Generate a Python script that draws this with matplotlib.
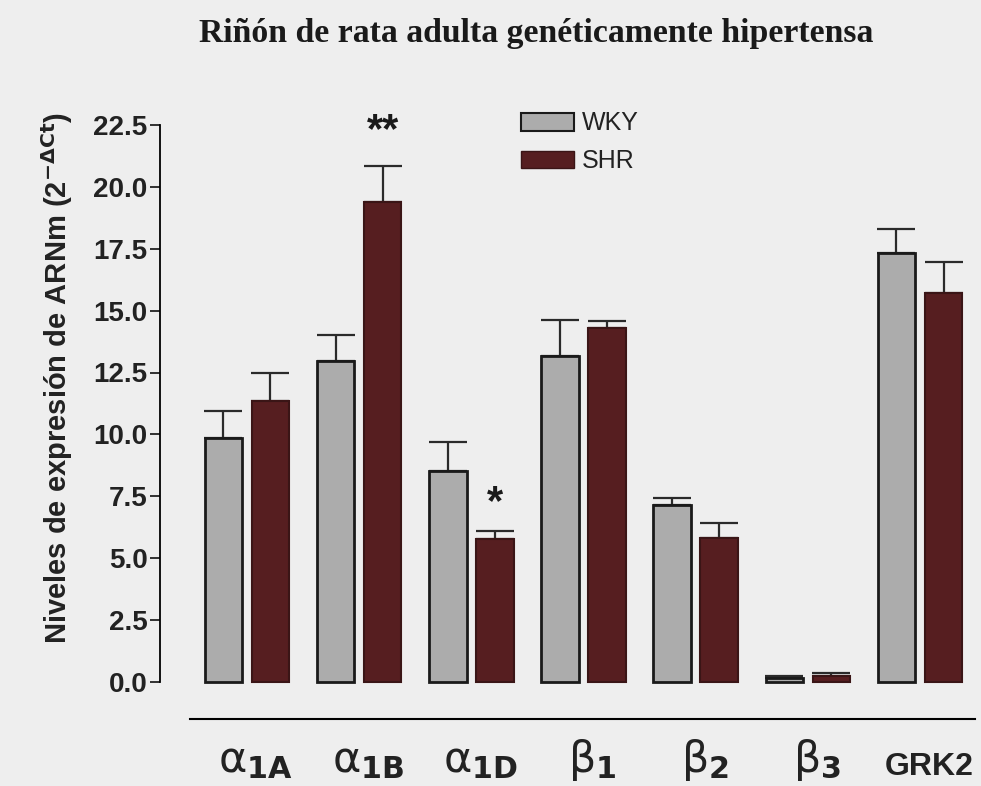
import matplotlib
matplotlib.use("Agg")
import matplotlib.pyplot as plt
import matplotlib.transforms as mtransforms
import numpy as np
from matplotlib.patches import Patch

categories = [r"$\mathrm{\alpha}_{\mathbf{1A}}$", r"$\mathrm{\alpha}_{\mathbf{1B}}$", r"$\mathrm{\alpha}_{\mathbf{1D}}$",
              r"$\mathrm{\beta}_{\mathbf{1}}$", r"$\mathrm{\beta}_{\mathbf{2}}$", r"$\mathrm{\beta}_{\mathbf{3}}$", "GRK2"]
wky = [9.84, 12.98, 8.52, 13.17, 7.15, 0.15, 17.31]
wky_err = [1.12, 1.05, 1.18, 1.45, 0.27, 0.10, 0.97]
shr = [11.35, 19.40, 5.79, 14.28, 5.80, 0.25, 15.72]
shr_err = [1.12, 1.44, 0.32, 0.30, 0.61, 0.10, 1.24]
signif = ["", "**", "*", "", "", "", ""]
yticks = [0.0, 2.5, 5.0, 7.5, 10.0, 12.5, 15.0, 17.5, 20.0, 22.5]

bg = "#eeeeee"
plt.rcParams["font.family"] = ["Liberation Sans", "DejaVu Sans"]
plt.rcParams["mathtext.fontset"] = "dejavusans"

fig = plt.figure(figsize=(9.81, 7.86), dpi=100, facecolor=bg)
ax = fig.add_axes([160/981, 1-719/786, (975-160)/981, (719-125)/786])
ax.set_facecolor(bg)

x = np.arange(len(categories))
off = 0.21
w = 0.335
ax.bar(x - off, wky, w, color="#acacac", edgecolor="#1a1a1a", linewidth=2.0, zorder=2)
ax.bar(x + off, shr, w, color="#561e20", edgecolor="#3a1516", linewidth=1.5, zorder=2)
ax.errorbar(x - off, wky, yerr=[np.zeros(len(wky)), wky_err], fmt="none",
            ecolor="#2a2a2a", elinewidth=1.6, capsize=14, capthick=1.6, zorder=1)
ax.errorbar(x + off, shr, yerr=[np.zeros(len(shr)), shr_err], fmt="none",
            ecolor="#2a2a2a", elinewidth=1.6, capsize=14, capthick=1.6, zorder=1)

star_gap = {"**": 1.4, "*": 1.1}
for xi, v, e, s in zip(x, shr, shr_err, signif):
    if s:
        ax.text(xi + off, v + e + star_gap[s], s, ha="center", va="center",
                fontsize=30, fontweight="bold", color="#1a1a1a")

ax.set_xlim(-0.775, 6.49)
ax.set_ylim(-1.5, 22.5)
ax.spines["left"].set_bounds(0, 22.5)
ax.spines["left"].set_linewidth(1.3)
ax.spines["bottom"].set_bounds(-0.51, 6.49)
ax.spines["bottom"].set_linewidth(1.5)
ax.spines["right"].set_visible(False)
ax.spines["top"].set_visible(False)
ax.set_yticks(yticks)
ax.set_yticklabels([f"{t:.1f}" for t in yticks], fontsize=20, fontweight="bold", color="#222222")
ax.tick_params(axis="y", length=7, width=1.3, color="#222222", pad=2)
ax.set_xticks([])

trans = mtransforms.blended_transform_factory(ax.transData, ax.transAxes)
for xi, lab in zip(x, categories):
    if lab == "GRK2":
        ax.text(xi + 0.08, -0.094, lab, transform=trans, ha="center", va="baseline",
                fontsize=23, fontweight="bold", color="#222222")
    else:
        ax.text(xi + 0.08, -0.089, lab, transform=trans, ha="center", va="baseline",
                fontsize=31, color="#222222")

ax.set_ylabel(r"Niveles de expresión de ARNm (2$^{\mathbf{-\Delta Ct}}$)", fontsize=21,
              fontweight="bold", color="#222222")
ax.yaxis.set_label_coords(-0.104, 0.574)

fig.text(0.547, 0.958, "Riñón de rata adulta genéticamente hipertensa", ha="center", va="center",
         fontsize=24.3, fontweight="bold", family=["Liberation Serif", "DejaVu Serif"], color="#1a1a1a")

handles = [Patch(facecolor="#acacac", edgecolor="#1a1a1a", linewidth=1.5, label="WKY"),
           Patch(facecolor="#561e20", edgecolor="#3a1516", linewidth=1.0, label="SHR")]
leg = fig.legend(handles=handles, loc="upper left", bbox_to_anchor=(498/981, 1-89/786), frameon=False,
                 fontsize=18, handlelength=2.15, handleheight=0.72, handletextpad=0.3, labelspacing=0.55)
for t in leg.get_texts():
    t.set_color("#222222")

fig.savefig("out.png", dpi=100, facecolor=bg)
